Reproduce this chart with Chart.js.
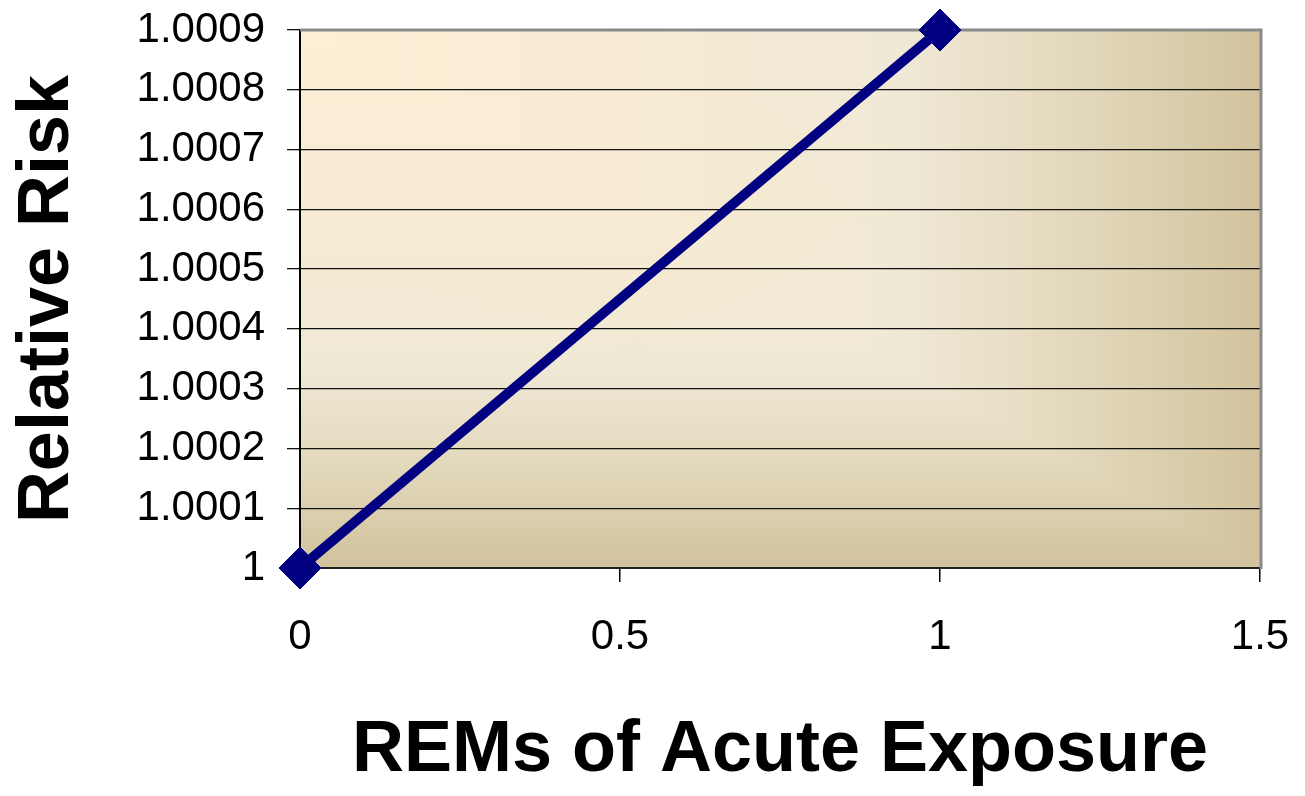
<!DOCTYPE html>
<html>
<head>
<meta charset="utf-8">
<script src="https://cdn.jsdelivr.net/npm/chart.js@4"></script>
<style>
  html, body { margin: 0; padding: 0; background: #fff; }
  #wrap { width: 1305px; height: 796px; }
</style>
</head>
<body>
<div id="wrap"><canvas id="chRisk"></canvas></div>
<script>
// data
var rems = [0, 1];
var relativeRisk = [1, 1.0009];
var xTickValues = [0, 0.5, 1, 1.5];
var yTickValues = [1, 1.0001, 1.0002, 1.0003, 1.0004, 1.0005, 1.0006, 1.0007, 1.0008, 1.0009];

var navy = '#000080';

// plot area shading: light in the top-left corner, going tan to the right and down
var plotBackground = {
  id: 'plotBackground',
  beforeDraw: function(chart) {
    var a = chart.chartArea, ctx = chart.ctx;
    var stops = [[0, '#fcefd6'], [0.35, '#f7ebd3'], [0.62, '#f0e9d7'], [0.8, '#e3d9bd'], [1, '#d2c39d']];
    ctx.save();
    var gx = ctx.createLinearGradient(a.left, 0, a.right, 0);
    stops.forEach(function(s) { gx.addColorStop(s[0], s[1]) });
    ctx.fillStyle = gx;
    ctx.fillRect(a.left, a.top, a.right - a.left, a.bottom - a.top);
    ctx.globalCompositeOperation = 'darken';
    var gy = ctx.createLinearGradient(0, a.top, 0, a.bottom);
    stops.forEach(function(s) { gy.addColorStop(s[0], s[1]) });
    ctx.fillStyle = gy;
    ctx.fillRect(a.left, a.top, a.right - a.left, a.bottom - a.top);
    ctx.restore();
  },
  beforeDatasetsDraw: function(chart) {
    var a = chart.chartArea, ctx = chart.ctx;
    ctx.save();
    ctx.strokeStyle = '#8a8a8a';
    ctx.lineWidth = 3;
    ctx.beginPath();
    ctx.moveTo(a.left, a.top);
    ctx.lineTo(a.right + 1, a.top);
    ctx.lineTo(a.right + 1, a.bottom + 1);
    ctx.stroke();
    ctx.restore();
  }
};

function fmt(v) {
  return parseFloat(Number(v).toFixed(4)).toString();
}

new Chart(document.getElementById('chRisk'), {
  type: 'scatter',
  data: {
    datasets: [{
      data: rems.map(function(x, i) { return { x: x, y: relativeRisk[i] } }),
      showLine: true,
      tension: 0,
      borderColor: navy,
      borderWidth: 10,
      pointStyle: 'rectRot',
      pointRadius: 21,
      pointHoverRadius: 21,
      pointBackgroundColor: navy,
      pointBorderColor: navy,
      pointBorderWidth: 1,
      clip: false
    }]
  },
  options: {
    responsive: true,
    maintainAspectRatio: false,
    animation: false,
    layout: { padding: { top: 30, right: 45, left: 0, bottom: 0 } },
    plugins: {
      legend: { display: false },
      tooltip: { enabled: false }
    },
    scales: {
      x: {
        type: 'linear',
        min: 0,
        max: 1.5,
        afterBuildTicks: function(axis) {
          axis.ticks = xTickValues.map(function(v) { return { value: v } });
        },
        afterFit: function(axis) {
          axis.height = 228;
          axis.paddingLeft = 0;
          axis.paddingRight = 0;
        },
        grid: { drawOnChartArea: false, drawTicks: true, tickLength: 14, color: '#000', lineWidth: 1.5 },
        border: { display: true, color: '#222', width: 2 },
        ticks: {
          padding: 30,
          color: '#000',
          maxRotation: 0,
          font: { family: '"Liberation Sans", Arial, sans-serif', size: 42 },
          callback: function(v) { return fmt(v) }
        },
        title: {
          display: true,
          text: 'REMs of Acute Exposure',
          color: '#000',
          padding: { top: 0, bottom: 9 },
          font: { family: '"Liberation Sans", Arial, sans-serif', size: 72, weight: 'bold', lineHeight: 1 }
        }
      },
      y: {
        type: 'linear',
        min: 1,
        max: 1.0009,
        afterBuildTicks: function(axis) {
          axis.ticks = yTickValues.map(function(v) { return { value: v } });
        },
        afterFit: function(axis) {
          axis.width = 300;
          axis.paddingTop = 0;
          axis.paddingBottom = 0;
        },
        grid: { drawOnChartArea: true, drawTicks: true, tickLength: 13, color: '#111', lineWidth: 1.3 },
        border: { display: true, color: '#000', width: 2 },
        ticks: {
          padding: 22,
          color: '#000',
          font: { family: '"Liberation Sans", Arial, sans-serif', size: 42 },
          callback: function(v) { return fmt(v) }
        },
        title: {
          display: true,
          text: 'Relative Risk',
          color: '#000',
          padding: { top: 12, bottom: 0 },
          font: { family: '"Liberation Sans", Arial, sans-serif', size: 72, weight: 'bold', lineHeight: 1 }
        }
      }
    }
  },
  plugins: [plotBackground]
});
</script>
</body>
</html>
